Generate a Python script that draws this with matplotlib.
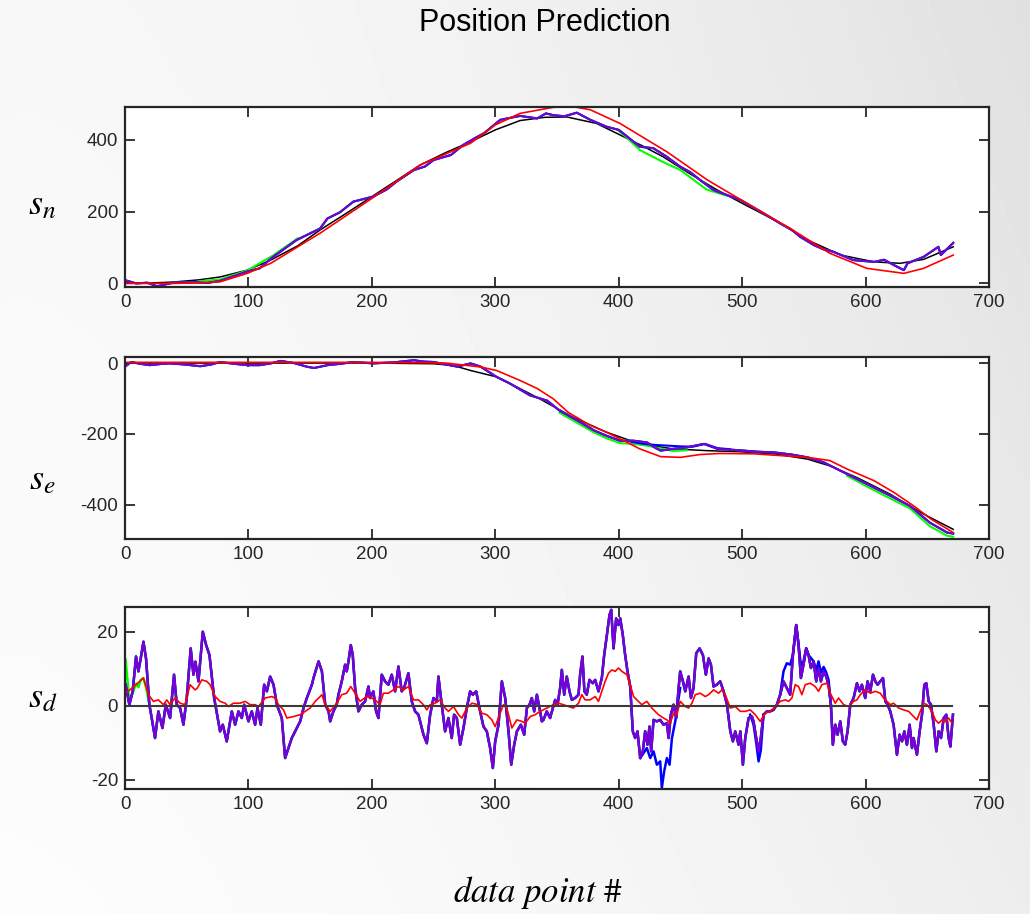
import numpy as np
import matplotlib
matplotlib.use('Agg')
import matplotlib.pyplot as plt

plt.rcParams['font.family'] = ['Liberation Sans', 'DejaVu Sans']
plt.rcParams['mathtext.fontset'] = 'stix'
plt.rcParams['axes.unicode_minus'] = False

# ---- s_n (north position) ----
n_black_x = [0, 20, 40, 60, 77, 99, 118, 140, 158, 180, 200, 220, 239, 260, 280, 300, 320, 340, 358,
             382, 401, 420, 436, 458, 480, 503, 526, 553, 580, 607, 628, 647, 671]
n_black_y = [0, 1, 4, 10, 18, 37, 65, 105, 149, 197, 242, 287, 330, 365, 395, 428, 454, 463, 464,
             446, 414, 382, 353, 305, 260, 218, 177, 121, 79, 60, 56, 67, 102]
n_red_x = [0, 40, 60, 77, 99, 118, 158, 200, 239, 280, 300, 320, 347, 363, 377, 401, 439, 472, 504,
           539, 571, 601, 631, 647, 671]
n_red_y = [0, 0, 2, 4.5, 28, 56, 140, 237, 330, 391, 442, 474, 491, 493, 484, 446, 367, 288, 223,
           153, 84, 42, 28, 42, 79]
n_pur_x = [0, 9, 18, 26, 39, 58, 66, 77, 99, 109, 120, 139, 158, 164, 174, 185, 201, 212, 220, 234,
           243, 250, 264, 274, 283, 291, 304, 320, 334, 341, 347, 356, 366, 377, 390, 400, 407, 417,
           428, 439, 450, 458, 466, 477, 488, 499, 507, 515, 531, 540, 547, 558, 566, 574, 590, 607,
           615, 623, 631, 634, 647, 659, 661, 671]
n_pur_y = [9, 0, 2, -8, 2, 3, 1, 7, 33, 42, 74, 121, 153, 181, 198, 228, 242, 262, 284, 316,
           326, 344, 358, 386, 404, 419, 456, 467, 460, 474, 469, 466, 476, 456, 437, 428, 409, 381,
           377, 353, 325, 310, 288, 260, 246, 232, 216, 200, 167, 150, 130, 107, 95, 88, 65, 60,
           66, 51, 37, 56, 74, 102, 79, 113]
n_grn1_x = [60, 77, 99, 120, 140]
n_grn1_y = [6, 11, 36, 78, 126]
n_grn2_x = [400, 407, 417, 435, 450, 471, 488]
n_grn2_y = [425, 405, 372, 340, 316, 262, 244]

# ---- s_e (east position) ----
e_black_x = [0, 100, 200, 250, 266, 280, 301, 320, 336, 363, 390, 417, 444, 471, 498, 526, 553, 571,
             593, 620, 647, 671]
e_black_y = [0, 0, 0, -2, -7, -21, -39, -72, -101, -153, -195, -228, -242, -247, -250, -256, -271,
             -290, -323, -370, -426, -469]
e_red_x = [0, 100, 200, 260, 288, 301, 320, 334, 347, 359, 377, 390, 407, 417, 434, 450, 466, 482,
           509, 531, 553, 571, 585, 607, 623, 639, 653, 671]
e_red_y = [2, 2, 2, 0, -11, -21, -49, -72, -101, -139, -176, -195, -224, -242, -264, -266, -258,
           -255, -256, -261, -266, -275, -299, -332, -365, -403, -440, -478]
e_pur_x = [0, 5, 12, 20, 28, 36, 48, 61, 70, 77, 88, 99, 109, 118, 126, 137, 147, 153, 164, 175,
           185, 201, 218, 234, 242, 250, 260, 269, 280, 288, 301, 312, 328, 342, 352, 369, 380, 390,
           401, 412, 423, 430, 434, 444, 455, 469, 480, 498, 512, 526, 540, 553, 566, 585, 601, 620,
           636, 652, 666, 671]
e_pur_y = [-10, 3, -2, -6, -3, -1, -4, -9, -4, 3, -2, -6, -6, -1, 6, 0, -10, -14, -6, -2,
           3, -1, 2, 8, 4, 3, -4, -10, -1, -10, -39, -58, -91, -106, -134, -167, -190, -205,
           -219, -219, -224, -240, -247, -242, -238, -228, -242, -246, -250, -252, -258, -266,
           -280, -313, -341, -374, -403, -450, -478, -481]
e_blue_x = [410, 420, 430, 440, 450, 460, 470, 480, 490]
e_blue_y = [-222, -228, -231, -233, -235, -236, -228, -240, -243]
e_grn1_x = [352, 369, 380, 390, 401, 412, 423, 444, 455]
e_grn1_y = [-140, -174, -196, -212, -226, -228, -233, -248, -246]
e_grn2_x = [585, 601, 620, 636, 652, 666, 671]
e_grn2_y = [-318, -348, -382, -410, -460, -487, -490]

# ---- s_d (down position) ----
d_red_pts = [
    (0.5, 3.4), (8.9, 5.7), (14.9, 7.5), (18.9, 3.0), (23.0, 1.2), (27.0, 1.6), (31.1, 0.3),
    (33.8, 1.6), (36.5, 0.3), (40.5, 2.1), (44.6, 0.7), (48.6, 0.3), (52.7, 5.7), (56.8, 4.3),
    (58.6, 4.8), (62.2, 7.0), (66.2, 6.6), (68.9, 5.7), (73.0, 2.5), (77.0, 1.2), (81.1, 0.7),
    (83.8, -0.2), (87.8, 0.7), (93.2, 0.7), (97.3, 1.2), (101.4, 0.3), (105.4, 0.3), (108.1, -0.2),
    (113.5, 2.1), (118.9, 2.5), (121.6, 2.1), (124.3, 0.3), (128.4, -1.1), (131.1, -3.3),
    (136.5, -2.9), (141.9, -2.4), (145.9, -1.5), (150.0, -0.6), (154.1, 1.2), (158.1, 2.5),
    (159.5, 3.0), (162.2, 0.3), (166.2, -1.5),
    (171.5, 0.7), (175.6, 3.0), (179.6, 3.4), (182.9, 5.2), (186.4, 3.4), (190.4, 1.2), (195.8, 2.5),
    (199.9, 2.1), (203.9, 1.2), (206.6, 0.3), (209.3, 3.4), (213.4, 3.4), (217.5, 4.3), (221.5, 5.2),
    (225.6, 4.3), (229.6, 5.2), (233.7, 1.6), (237.7, 1.6), (241.8, 0.3), (244.5, -1.1), (247.2, 0.3),
    (251.2, 0.7), (255.3, 1.6), (259.3, -0.6), (262.0, -1.5), (266.1, -0.2), (270.2, -2.4),
    (272.9, -3.3), (276.9, -0.6), (281.0, 0.7), (285.0, 0.4), (289.1, -2.0), (293.1, -2.4),
    (297.2, -3.8), (299.9, -5.6), (303.9, -2.0), (306.6, 0.3), (309.3, -0.6), (313.4, -6.0),
    (317.4, -3.8), (321.5, -4.2), (324.2, -4.7), (328.3, -2.9), (332.3, -2.4), (336.4, -1.5),
    (341.7, -0.6), (347.1, 0.3), (351.2, 0.7), (355.2, 0.3), (359.3, -0.2), (363.3, -0.6),
    (367.4, 0.7), (370.1, 3.0), (372.8, 1.6), (376.8, 1.6), (380.9, 2.5), (383.6, 1.2), (386.3, 3.9),
    (389.0, 6.6), (391.7, 8.8), (394.4, 9.7), (397.1, 9.3), (399.8, 10.2), (402.5, 9.3), (406.6, 8.4),
    (409.3, 5.7), (412.0, 2.5), (416.0, 1.2), (418.7, 0.3), (422.8, 1.2), (426.8, -0.6), (429.5, -1.5),
    (432.2, -2.4), (436.3, -3.3), (439.0, -3.8), (441.7, -4.7), (444.4, -2.0), (447.1, -2.4),
    (449.8, 1.2), (453.9, -0.2), (456.6, -0.6), (459.3, 0.7), (462.0, 3.0), (466.0, 3.4), (470.1, 2.5),
    (472.8, 3.0), (476.8, 4.3), (480.9, 3.4), (483.6, 4.3), (486.3, 3.0), (490.4, -0.6), (494.4, -0.2),
    (498.5, -1.5), (502.5, -1.5),
    (506.5, -1.1), (510.6, -2.4), (514.6, -4.2), (518.7, -2.0), (522.7, -1.5), (526.8, -0.2),
    (530.8, 1.2), (534.9, 1.6), (537.6, 1.2), (540.3, 2.1), (543.0, 5.7), (545.7, 5.2), (548.4, 3.0),
    (551.1, 5.7), (555.2, 6.1), (559.2, 5.2), (561.9, 3.9), (564.6, 5.7), (568.7, 6.1), (571.4, 3.4),
    (575.4, 0.7), (578.1, 2.1), (582.2, 0.3), (586.2, -0.2), (590.3, 1.2), (593.0, 1.6), (595.7, 3.0),
    (599.7, 4.3), (603.8, 3.4), (607.9, 3.9), (611.9, 3.4), (614.6, 2.1), (617.3, 1.2), (620.0, 0.3),
    (622.7, 0.7), (626.8, -0.6), (630.8, -1.1), (634.9, -1.5), (638.9, -2.9), (641.6, -3.8),
    (644.3, -1.5), (647.0, 0.7), (649.7, 0.3), (653.8, -1.5), (656.5, -3.8), (659.2, -4.7),
    (661.9, -3.8), (664.6, -4.2), (667.3, -3.3), (670.0, -4.7),
]
d_red_x = [p[0] for p in d_red_pts]
d_red_y = [p[1] for p in d_red_pts]

d_pur_x = [0.5, 3.5, 6.2, 8.9, 10.8, 12.7, 14.9, 17.0, 19.7, 21.6, 24.3, 27.0, 30.3, 33.0, 36.5,
           39.7, 41.9, 44.6, 47.3, 50.0, 53.2, 55.4, 57.0, 59.5, 63.0, 65.7, 68.4, 72.2, 77.0,
           79.2, 82.4, 86.5, 89.2, 91.9, 94.6, 96.5, 100.0, 102.7, 105.4, 107.3, 110.0, 112.7,
           114.9, 117.6, 120.3, 123.0, 127.0, 129.7, 132.4, 135.1, 137.8, 141.9, 144.6, 147.3,
           151.4, 152.7, 156.8, 159.5, 162.2, 164.9, 166.2, 168.8, 171.5, 172.9, 175.6, 178.3,
           179.6, 181.0, 182.9, 184.5, 186.4, 189.1, 191.8, 194.5, 197.2, 198.5, 201.2, 203.4,
           205.3, 208.0, 210.7, 213.4, 216.1, 218.8, 221.5, 224.2, 226.1, 229.6, 232.3, 235.0,
           237.7, 241.8, 244.5, 247.2, 249.9, 252.6, 253.9, 256.6, 259.3, 262.0, 264.7, 266.6,
           268.8, 271.5, 274.2, 276.9, 279.6, 281.8, 284.5, 287.7, 290.4, 293.1, 295.8, 298.0,
           299.9, 302.6, 305.3, 308.0, 310.7, 312.9, 315.3, 317.5, 320.7, 323.4, 325.6, 327.7,
           329.6, 331.5, 333.7, 335.8, 337.7, 339.0, 341.7, 344.4, 346.6, 348.5, 350.4, 352.5,
           353.9, 355.8, 357.9, 360.1, 362.0, 364.7, 367.4, 368.7, 370.6, 372.2, 374.1, 376.3,
           379.0, 380.9, 383.6, 386.3, 388.2, 390.4, 392.5, 393.9, 395.8, 397.9, 399.8, 401.2,
           403.3, 405.2, 407.1, 409.3, 411.4, 413.3, 415.2, 417.4, 419.5, 421.4, 423.3, 424.9,
           426.3, 428.2, 430.9, 433.6, 436.3, 439.0, 440.4, 442.2, 444.4, 446.6, 448.5, 449.8,
           452.0, 453.9, 456.6, 458.5, 460.6, 462.8, 465.5, 468.2, 470.6, 472.8, 474.7, 476.8,
           479.5, 482.2, 485.0, 487.7, 490.4, 492.5, 494.4, 497.1, 498.5, 500.6, 502.5, 505.2,
           507.9, 509.2, 511.4, 513.3, 515.1, 517.3, 520.0, 522.7, 525.4, 528.1, 530.8, 533.5,
           536.2, 538.9, 541.1, 543.8, 545.7, 547.6, 549.7, 551.9, 553.8, 555.7, 557.9, 560.0,
           561.9, 563.8, 566.0, 568.1, 570.0, 571.9, 573.5, 575.4, 577.3, 579.5, 581.6, 583.5,
           585.4, 587.6, 590.3, 593.0, 595.1, 597.0, 599.7, 601.6, 603.8, 606.0, 607.9, 609.7,
           611.9, 614.1, 616.0, 617.9, 620.0, 622.7, 625.4, 627.6, 629.5, 631.4, 633.5, 635.7,
           637.6, 638.9, 641.6, 643.8, 645.7, 647.6, 649.2, 651.1, 653.0, 655.2, 657.3, 659.2,
           661.1, 663.3, 665.4, 667.3, 668.7, 670.8]
d_pur_y = [5.7, 0.3, 3.9, 13.3, 9.3, 12.8, 17.3, 12.8, 0.3, -3.3, -8.7, -1.5, -6.0, 0.3, -3.3,
           8.4, 0.3, -0.6, -5.1, 2.1, 15.5, 8.4, 11.9, 6.6, 20.0, 16.4, 13.7, 2.1, -6.9,
           -5.1, -9.6, -1.5, -5.1, -1.5, -3.3, 0.3, -4.2, -1.5, -5.1, -0.6, -5.1, 5.7,
           3.9, 7.9, 5.7, 0.3, -3.3, -14.1, -11.4, -8.7, -6.9, -4.2, -0.6, 2.1,
           5.7, 7.5, 12.0, 9.3, 0.3, -1.5, -4.2, -1.5, 0.3, 3.0, 6.6, 11.1,
           9.3, 11.9, 16.4, 13.7, 4.8, -1.5, 0.3, 1.2, 5.2, 2.1, 3.9, -1.5,
           -3.3, 8.4, 6.6, 5.7, 8.4, 3.9, 10.6, 3.9, 4.8, 8.8, 1.2, -1.5,
           -2.4, -7.8, -10.1, -2.4, 2.1, 1.2, 7.9, 0.3, -6.9, -3.3, -8.7, -2.4,
           -3.3, -10.5, -6.0, -0.6, 3.9, 3.0, 3.9, -1.5, -5.6, -6.9, -11.4, -16.8,
           -9.6, -5.1, 6.6, 2.1, -6.9, -15.9, -10.5, -6.9, -5.1, -7.8, -0.6, 0.3,
           2.1, -1.5, 3.0, -0.6, -4.2, -3.8, -1.5, -3.3, -0.6, 1.6, 0.3, 4.8,
           9.7, 3.0, 7.9, 3.9, 1.6, 2.1, 3.0, 8.4, 13.3, 3.9, 3.0, 7.0,
           6.1, 7.0, 3.9, 7.5, 13.7, 19.1, 24.5, 25.9, 15.5, 23.6, 21.8, 23.6,
           19.1, 13.7, 9.3, 5.2, -6.9, -8.7, -6.9, -14.1, -12.3, -6.9, -10.5, -5.6,
           -12.3, -3.8, -4.2, -3.8, -5.1, -4.7, -8.7, -2.4, 0.3, -3.3, 4.8, 9.3,
           6.6, 3.9, 7.9, 2.1, 4.8, 14.2, 15.5, 13.7, 8.4, 12.8, 11.1, 5.2,
           5.7, 6.6, 3.9, 0.3, -6.9, -9.6, -6.9, -10.5, -6.9, -15.9, -8.7, -3.3,
           -2.9, -4.2, -8.7, -12.3, -8.7, -2.4, -1.5, -1.5, -1.1, 0.3, 3.0, 6.6,
           4.8, 3.0, 13.7, 21.8, 16.4, 7.5, 11.1, 15.5, 13.7, 10.2, 11.9, 6.6,
           10.2, 6.6, 9.3, 7.9, 5.7, 0.3, -10.5, -5.1, -7.8, -4.2, -9.6, -10.5,
           -6.9, 0.3, 2.1, 6.1, 3.9, 5.7, 2.1, 6.6, 3.9, 8.4, 6.6, 5.7,
           6.6, 7.5, 1.2, 0.3, -1.5, -5.1, -13.2, -7.8, -9.6, -6.9, -10.5, -5.1,
           -11.4, -8.7, -13.2, -6.9, -2.4, 5.7, 6.1, 1.2, 0.3, -5.1, -12.3, -6.9,
           -8.7, -3.3, -2.4, -8.7, -11.0, -2.4]
d_blue_x = [417.4, 422.8, 425.5, 428.2, 430.9, 433.6, 434.9, 436.8, 439.0, 441.2, 443.1, 445.8,
            447.7, 449.8]
d_blue_y = [-14.1, -11.4, -14.1, -12.3, -15.9, -15.0, -22.2, -17.7, -14.1, -15.9, -8.7, -4.2,
            0.3, 4.8]
d_blue2_x = [506.5, 509.2, 511.4, 513.3, 515.1, 517.3]
d_blue2_y = [-2.4, -5.0, -10.0, -15.0, -12.0, -2.4]
d_blue3_x = [530.8, 533.5, 536.2, 538.9, 541.1, 543.8, 545.7, 547.6, 549.7, 551.9, 553.8, 557.9,
             560.0, 561.9, 563.8, 566.0, 568.1, 570.0, 571.9]
d_blue3_y = [3.0, 9.3, 11.5, 11.1, 13.7, 21.8, 16.4, 11.0, 12.0, 15.5, 13.7, 12.0,
             9.5, 12.0, 9.0, 10.5, 9.0, 7.0, 0.3]
d_grn_x = [0.5, 3.5, 6.2, 8.9, 10.8, 12.7, 14.9, 17.0, 19.7]
d_grn_y = [12.4, 1.0, 3.5, 6.0, 5.0, 7.0, 7.5, 5.0, 0.3]
d_black_x = [0, 670]
d_black_y = [0, 0]

x_ticks = [0, 100, 200, 300, 400, 500, 600, 700]

GREEN = '#00ff00'
BLUE = '#0000ff'
PURPLE = '#7a00d6'
RED = '#ff0000'

fig = plt.figure(figsize=(10.3, 9.14), dpi=100)

# gray gradient background
bg = fig.add_axes([0, 0, 1, 1], zorder=-10)
u = np.linspace(0, 1, 300)
v = np.linspace(0, 1, 300)
U, V = np.meshgrid(u, v)
shade = 0.99 - 0.11 * U ** 1.6 * (1 - 0.45 * V) - 0.02 * (1 - V) * (1 - U)
bg.imshow(shade, cmap='gray', vmin=0, vmax=1, extent=[0, 1, 0, 1], aspect='auto')
bg.axis('off')


def style(ax, ylim, yticks):
    ax.set_xlim(0, 700)
    ax.set_ylim(*ylim)
    ax.set_xticks(x_ticks)
    ax.set_yticks(yticks)
    ax.tick_params(direction='in', length=7, width=1.3, top=True, right=True,
                   labelsize=13.5, colors='#262626', pad=5)
    for s in ax.spines.values():
        s.set_linewidth(1.6)
        s.set_color('#262626')
    ax.set_facecolor('white')


ax1 = fig.add_axes([0.1214, 0.686, 0.8388, 0.197])
ax1.plot(n_black_x, n_black_y, color='black', lw=1.1)
ax1.plot(n_pur_x, n_pur_y, color=GREEN, lw=1.5)
ax1.plot(n_grn1_x, n_grn1_y, color=GREEN, lw=1.5)
ax1.plot(n_grn2_x, n_grn2_y, color=GREEN, lw=1.5)
ax1.plot(n_pur_x, n_pur_y, color=BLUE, lw=1.5)
ax1.plot(n_pur_x, n_pur_y, color=PURPLE, lw=1.4)
ax1.plot(n_red_x, n_red_y, color=RED, lw=1.2)
style(ax1, (-10, 492), [0, 200, 400])

ax2 = fig.add_axes([0.1214, 0.410, 0.8388, 0.199])
ax2.plot(e_black_x, e_black_y, color='black', lw=1.1)
ax2.plot(e_pur_x, e_pur_y, color=GREEN, lw=1.5)
ax2.plot(e_grn1_x, e_grn1_y, color=GREEN, lw=1.5)
ax2.plot(e_grn2_x, e_grn2_y, color=GREEN, lw=1.5)
ax2.plot(e_pur_x, e_pur_y, color=BLUE, lw=1.5)
ax2.plot(e_blue_x, e_blue_y, color=BLUE, lw=1.5)
ax2.plot(e_pur_x, e_pur_y, color=PURPLE, lw=1.4)
ax2.plot(e_red_x, e_red_y, color=RED, lw=1.2)
style(ax2, (-497, 16), [-400, -200, 0])

ax3 = fig.add_axes([0.1214, 0.137, 0.8388, 0.199])
ax3.plot(d_pur_x, d_pur_y, color=GREEN, lw=1.8)
ax3.plot(d_grn_x, d_grn_y, color=GREEN, lw=1.8)
ax3.plot(d_pur_x, d_pur_y, color=BLUE, lw=1.8)
ax3.plot(d_blue_x, d_blue_y, color=BLUE, lw=1.8)
ax3.plot(d_blue2_x, d_blue2_y, color=BLUE, lw=1.8)
ax3.plot(d_blue3_x, d_blue3_y, color=BLUE, lw=1.8)
ax3.plot(d_pur_x, d_pur_y, color=PURPLE, lw=1.7)
ax3.plot(d_red_x, d_red_y, color=RED, lw=1.2)
ax3.plot(d_black_x, d_black_y, color='#3a3a3a', lw=1.5)
style(ax3, (-22.4, 26.7), [-20, 0, 20])

fig.text(0.529, 0.975, 'Position Prediction', ha='center', va='center', fontsize=22)
fig.text(0.041, 0.776, r'$s_n$', ha='center', va='center', fontsize=26)
fig.text(0.041, 0.475, r'$s_e$', ha='center', va='center', fontsize=26)
fig.text(0.041, 0.237, r'$s_d$', ha='center', va='center', fontsize=26)
fig.text(0.522, 0.023, r'$data\ point\ \#$', ha='center', va='center', fontsize=25)

fig.savefig('out.png', dpi=100)
